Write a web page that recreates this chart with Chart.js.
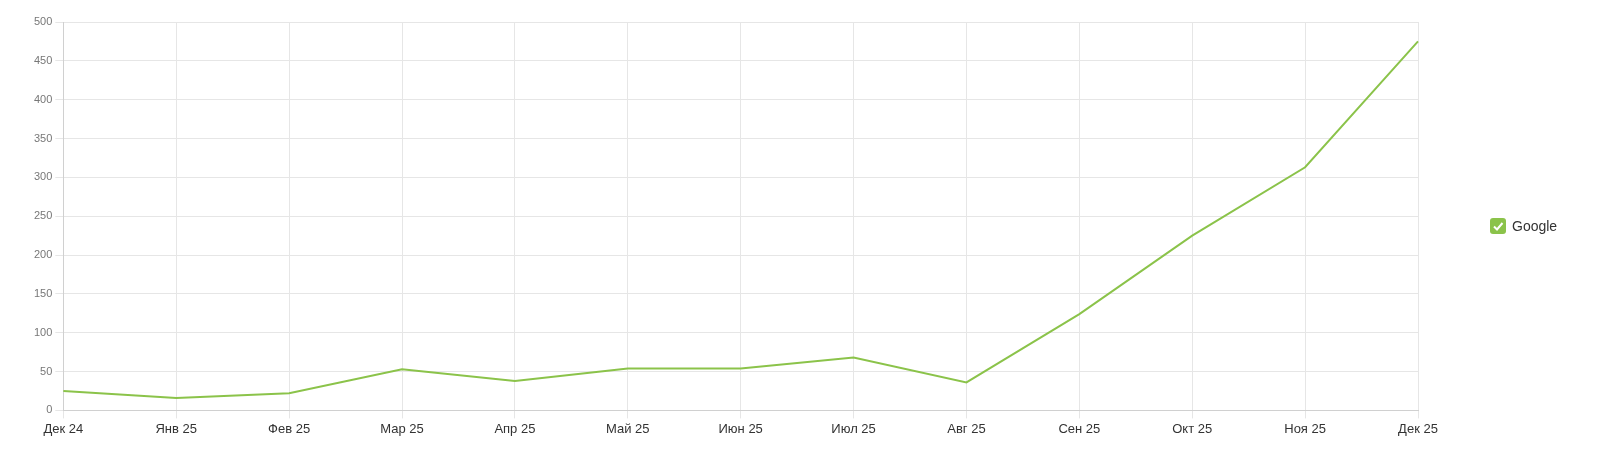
<!DOCTYPE html>
<html>
<head>
<meta charset="utf-8">
<script src="https://cdn.jsdelivr.net/npm/chart.js@4"></script>
<style>
  html, body { margin: 0; padding: 0; background: #fff; }
  #wrap { width: 1600px; height: 452px; position: relative; }
  #legend { position: absolute; left: 1490px; top: 218px; display: flex; align-items: center;
    font-family: Arial, "Liberation Sans", sans-serif; font-size: 14px; color: #333; }
  #legend canvas { margin-right: 6px; }
</style>
</head>
<body>
<div id="wrap">
  <canvas id="chart" width="1600" height="452"></canvas>
  <div id="legend"></div>
</div>
<script>
const months = ["Дек 24", "Янв 25", "Фев 25", "Мар 25", "Апр 25", "Май 25", "Июн 25",
  "Июл 25", "Авг 25", "Сен 25", "Окт 25", "Ноя 25", "Дек 25"];
const googleValues = [25, 16, 22, 53, 38, 54, 54, 68, 36, 124, 225, 313, 475];
const yTicks = [0, 50, 100, 150, 200, 250, 300, 350, 400, 450, 500];

// checkbox-style legend marker
const box = document.createElement("canvas");
box.width = 16; box.height = 16;
const b = box.getContext("2d");
b.fillStyle = "#8bc34a";
b.beginPath();
b.roundRect(0, 0, 16, 16, 3);
b.fill();
b.strokeStyle = "#fff";
b.lineWidth = 2;
b.beginPath();
b.moveTo(4, 8.5); b.lineTo(7, 11.5); b.lineTo(12.5, 5);
b.stroke();

const chart = new Chart(document.getElementById("chart"), {
  type: "line",
  data: {
    labels: months,
    datasets: [{
      label: "Google",
      data: googleValues,
      borderColor: "#8bc34a",
      backgroundColor: "#8bc34a",
      borderWidth: 2,
      pointRadius: 0,
      tension: 0,
      fill: false
    }]
  },
  options: {
    responsive: false,
    animation: false,
    layout: { padding: { left: 31, right: 182, top: 22, bottom: 12 } },
    plugins: {
      legend: { display: false },
      tooltip: { enabled: false }
    },
    scales: {
      x: {
        grid: { color: "#e6e6e6" },
        border: { color: "#d0d0d0" },
        ticks: { color: "#333", font: { family: "Arial", size: 13 }, maxRotation: 0 }
      },
      y: {
        min: 0, max: 500,
        afterBuildTicks: (axis) => { axis.ticks = yTicks.map(v => ({ value: v })); },
        grid: { color: "#e6e6e6" },
        border: { color: "#d0d0d0" },
        ticks: { color: "#777", font: { family: "Arial", size: 11 } }
      }
    }
  }
});

const legend = document.getElementById("legend");
legend.appendChild(box);
const label = document.createElement("span");
label.textContent = chart.data.datasets[0].label;
legend.appendChild(label);
</script>
</body>
</html>
